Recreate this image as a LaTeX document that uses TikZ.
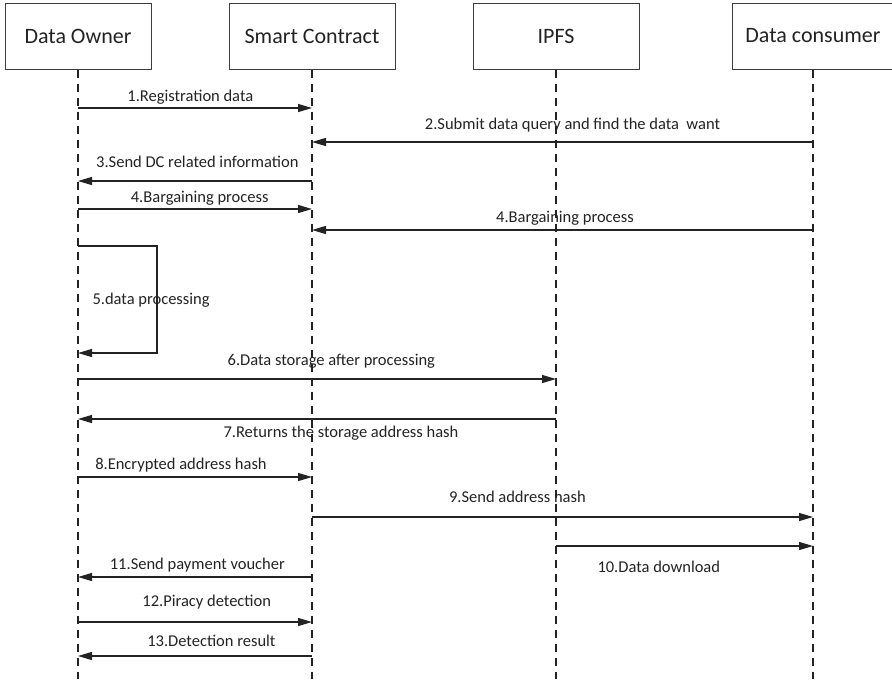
\documentclass[tikz,border=0pt]{standalone}
\usepackage{fontspec}
\setmainfont{Carlito}
\usetikzlibrary{arrows.meta,positioning}
\definecolor{Ink}{RGB}{35,35,35}
\definecolor{Frame}{RGB}{60,60,60}
\tikzstyle{block} = [rectangle, draw=Frame, line width=1pt,
    minimum height=66pt, text=Ink, font=\fontsize{22}{26}\selectfont]
\tikzstyle{lifeline} = [draw=Ink, line width=1.3pt, dash pattern=on 8pt off 6pt]
\tikzstyle{line} = [draw=Ink, line width=1.2pt, -{Triangle[length=14pt,width=8pt]}]
\tikzstyle{msg} = [text=Ink, font=\fontsize{16.5}{19}\selectfont]

\begin{document}
\begin{tikzpicture}[x=1pt, y=-1pt]
  \useasboundingbox (0,0) rectangle (892,681);
  % participants
  \node [block, minimum width=146pt] (owner) at (78,36) {Data Owner};
  \node [block, minimum width=166pt, right=77pt of owner] (contract) {Smart Contract};
  \node [block, minimum width=166pt, right=77pt of contract] (ipfs) {IPFS};
  \node [block, minimum width=162pt, right=92pt of ipfs] (consumer) {Data consumer};
  %
  \coordinate (bottom) at (0,679);
  \path [lifeline] (owner) -- (owner |- bottom);
  \path [lifeline] (contract) -- (contract |- bottom);
  \path [lifeline] (ipfs) -- (ipfs |- bottom);
  \path [lifeline] (consumer) -- (consumer |- bottom);
  % message rows
  \coordinate (r1) at (0,108);
  \coordinate (r2) at (0,142);
  \coordinate (r3) at (0,181);
  \coordinate (r4) at (0,209);
  \coordinate (r4b) at (0,230);
  \coordinate (r6) at (0,379);
  \coordinate (r7) at (0,419);
  \coordinate (r8) at (0,477);
  \coordinate (r9) at (0,517);
  \coordinate (r10) at (0,546);
  \coordinate (r11) at (0,577);
  \coordinate (r12) at (0,622);
  \coordinate (r13) at (0,656);
  \coordinate (loopTop) at (157,246);
  \coordinate (loopBot) at (157,353);
  %
  \path [line] (owner |- r1) -- node[msg, above, pos=0.48] (m1) {1.Registration data} (contract |- r1);
  \path [line] (consumer |- r2) -- node[msg, above=6pt, pos=0.48] (m2) {2.Submit data query and find the data\ \ want} (contract |- r2);
  \path [line] (contract |- r3) -- node[msg, above=9pt, pos=0.49] (m3) {3.Send DC related information} (owner |- r3);
  \path [line] (owner |- r4) -- node[msg, above, pos=0.52] (m4) {4.Bargaining process} (contract |- r4);
  \path [line] (consumer |- r4b) -- node[msg, above=1pt, pos=0.495] (m4b) {4.Bargaining process} (contract |- r4b);
  %
  \path [line] (owner |- loopTop) -- (loopTop) -- (loopBot) -- (owner |- loopBot);
  \node [msg, anchor=west] (m5) at (89,300) {5.data processing};
  %
  \path [line] (owner |- r6) -- node[msg, above=7pt, pos=0.53] (m6) {6.Data storage after processing} (ipfs |- r6);
  \path [line] (ipfs |- r7) -- node[msg, below=3pt, pos=0.45] (m7) {7.Returns the storage address hash} (owner |- r7);
  \path [line] (owner |- r8) -- node[msg, above=1pt, pos=0.44] (m8) {8.Encrypted address hash} (contract |- r8);
  \path [line] (contract |- r9) -- node[msg, above=10pt, pos=0.41] (m9) {9.Send address hash} (consumer |- r9);
  \path [line] (ipfs |- r10) -- node[msg, below=11pt, pos=0.40] (m10) {10.Data download} (consumer |- r10);
  %
  \path [line] (contract |- r11) -- node[msg, above=1pt, pos=0.49] (m11) {11.Send payment voucher} (owner |- r11);
  \path [line] (owner |- r12) -- node[msg, above=9pt, pos=0.55] (m12) {12.Piracy detection} (contract |- r12);
  \path [line] (contract |- r13) -- node[msg, above=5pt, pos=0.43] (m13) {13.Detection result} (owner |- r13);
\end{tikzpicture}
\end{document}
